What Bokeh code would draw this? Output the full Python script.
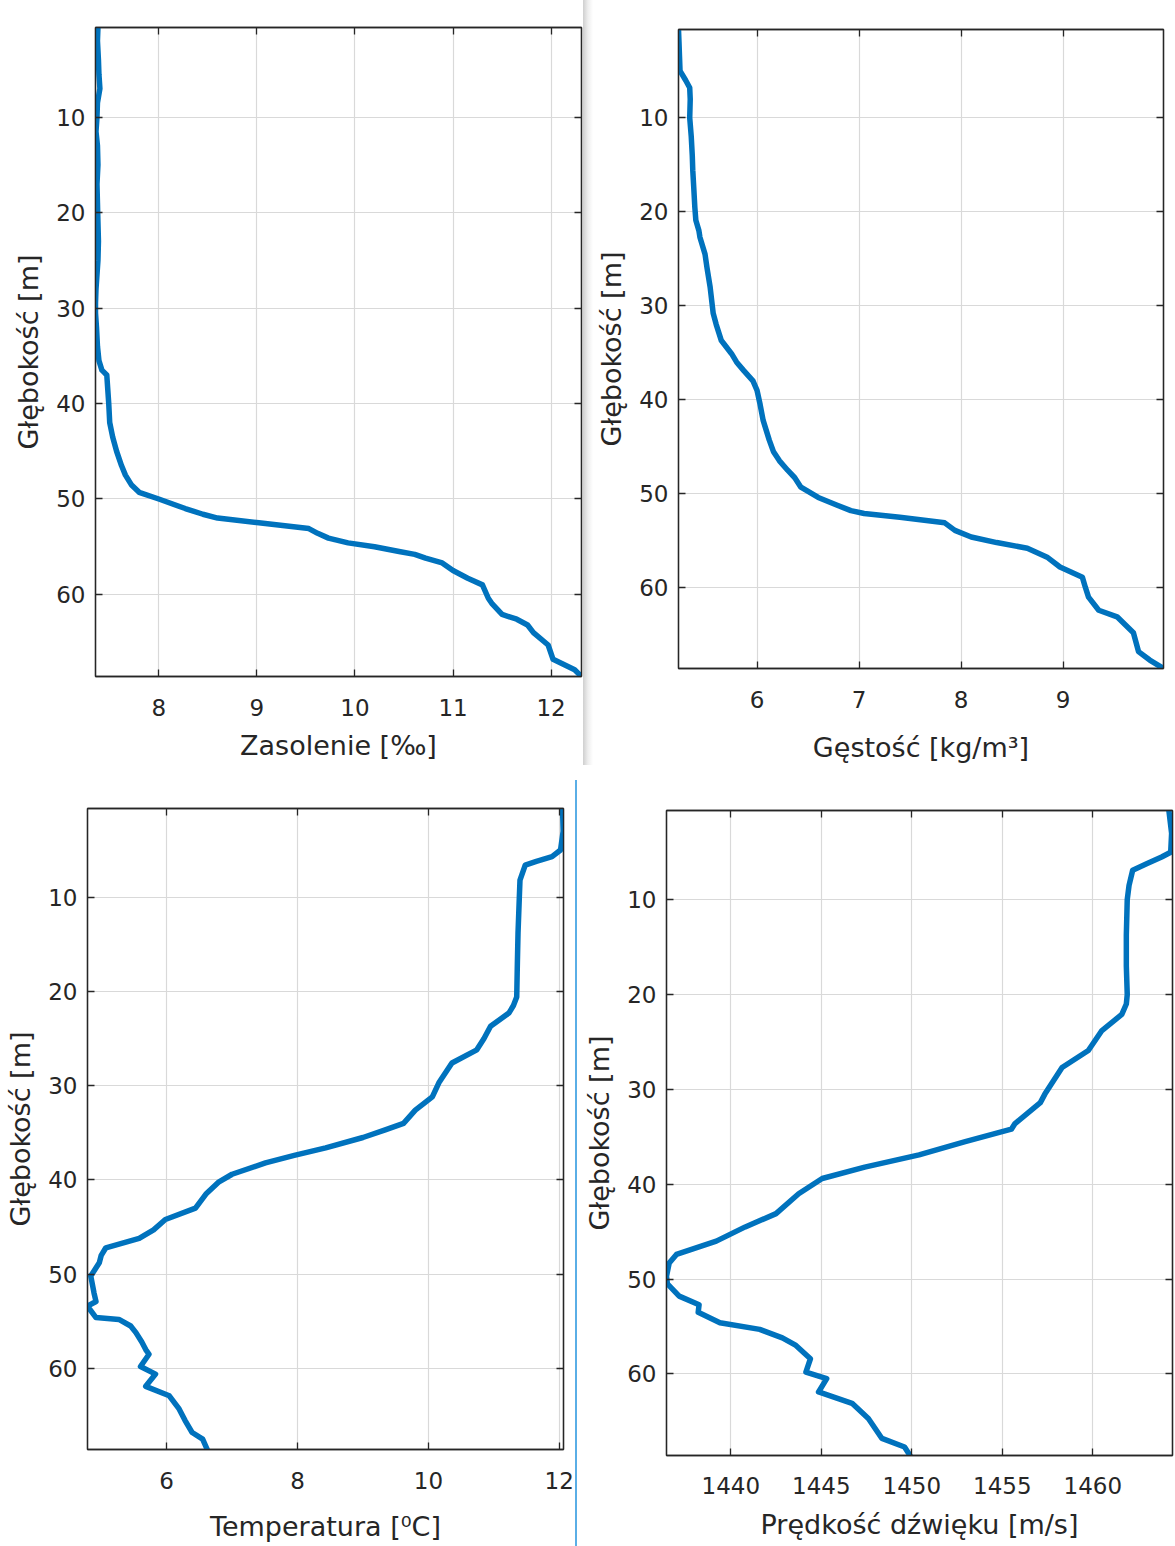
from bokeh.plotting import figure
from bokeh.models import Range1d, FixedTicker, LinearAxis, Div
from bokeh.layouts import row, column
from bokeh.embed import file_html
from bokeh.resources import INLINE

# ---------------- data ----------------
depth_ticks = [10, 20, 30, 40, 50, 60]

depth_sal = [0.6, 2, 4, 5.5, 7, 8.5, 10, 11.5, 13, 15, 17, 19, 21, 23, 25, 26.5, 28, 29.5, 30.5, 32,
             34, 35.5, 36.5, 37, 38.5, 40, 42, 43.5, 45, 46.5, 47.5, 48.5, 49.3, 50, 51, 51.6, 52, 52.5, 53.1, 53.6,
             54.1, 54.6, 55, 55.5, 55.8, 56.2, 56.7, 57.5, 58.3, 59, 60.4, 61, 62.1, 62.6, 63.2, 64, 65.3, 66.8, 67.9, 68.6]
salinity = [7.38, 7.375, 7.385, 7.39, 7.40, 7.375, 7.37, 7.36, 7.375, 7.38, 7.37, 7.375, 7.38, 7.385, 7.38, 7.37, 7.36, 7.355, 7.355, 7.365,
            7.375, 7.39, 7.42, 7.47, 7.48, 7.49, 7.50, 7.53, 7.57, 7.62, 7.66, 7.72, 7.80, 8.0, 8.27, 8.45, 8.6, 9.02, 9.53, 9.62,
            9.73, 9.93, 10.2, 10.45, 10.61, 10.72, 10.89, 11.0, 11.15, 11.3, 11.36, 11.4, 11.5, 11.65, 11.76, 11.82, 11.97, 12.02, 12.24, 12.31]
sal_ticks = [8, 9, 10, 11, 12]

depth_den = [0.6, 2, 3.5, 5, 6, 6.8, 8, 10, 12, 14, 15.6, 17.5, 19.5, 20.9, 22, 22.7, 24.5, 26, 28, 30.8,
             32, 33.7, 35.1, 36, 36.9, 38, 39, 40.5, 42.2, 44.3, 45.5, 46.5, 47.5, 48.3, 49.3, 50.4, 51.2, 51.8, 52.1, 52.5,
             53.1, 53.9, 54.6, 55.2, 55.8, 56.8, 57.8, 58.9, 60, 61, 62.4, 63.1, 64.8, 66.8, 67.7, 68.6]
density = [5.23, 5.235, 5.24, 5.245, 5.30, 5.34, 5.345, 5.34, 5.355, 5.365, 5.37, 5.38, 5.39, 5.40, 5.43, 5.44, 5.49, 5.51, 5.54, 5.57,
           5.60, 5.65, 5.75, 5.80, 5.87, 5.96, 6.0, 6.03, 6.06, 6.12, 6.16, 6.22, 6.30, 6.37, 6.43, 6.6, 6.78, 6.92, 7.05, 7.4,
           7.84, 7.94, 8.1, 8.35, 8.65, 8.85, 8.97, 9.19, 9.22, 9.25, 9.35, 9.53, 9.69, 9.74, 9.85, 9.985]
den_ticks = [6, 7, 8, 9]

depth_temp = [0.6, 3, 5.0, 5.7, 6.2, 6.6, 8.2, 10, 13.8, 17, 20.6, 21.5, 22.3, 23.7, 25, 26.2, 27.6, 29.7, 31.2, 32.6,
              34.0, 34.7, 35.5, 36.6, 37.4, 38.2, 39.4, 40.2, 41.5, 43.0, 44.2, 45.3, 46.2, 47.2, 48.0, 48.8, 50.2, 52.0, 52.9, 53.4,
              54.6, 54.8, 55.5, 56.2, 57.2, 58.0, 58.5, 59.8, 60.6, 61.9, 62.9, 64.3, 65.5, 66.8, 67.5, 68.6]
temperature = [12.05, 12.06, 12.02, 11.89, 11.65, 11.48, 11.40, 11.39, 11.37, 11.36, 11.35, 11.30, 11.23, 10.95, 10.85, 10.74, 10.36, 10.16, 10.06, 9.80,
               9.62, 9.34, 9.0, 8.43, 7.95, 7.51, 7.0, 6.80, 6.6, 6.44, 5.98, 5.8, 5.58, 5.07, 5.0, 4.97, 4.84, 4.89, 4.92, 4.79,
               4.92, 5.27, 5.45, 5.53, 5.62, 5.68, 5.73, 5.60, 5.83, 5.68, 6.04, 6.19, 6.28, 6.39, 6.55, 6.62]
temp_ticks = [6, 8, 10, 12]

depth_snd = [0.6, 3, 5.0, 5.5, 6.2, 6.9, 8.5, 10, 13.7, 17, 20, 21.0, 22.1, 23.8, 25.9, 27.7, 30.5, 31.4, 33.6, 34.2,
             35.5, 36.9, 38.2, 39.4, 41.0, 43.1, 44.5, 46.0, 47.4, 48.3, 49.7, 50.5, 51.8, 52.7, 53.5, 54.6, 55.3, 56.2, 57.0, 58.4,
             59.8, 60.5, 61.9, 63.1, 64.7, 66.8, 67.7, 68.6]
sound_speed = [1464.2, 1464.35, 1464.3, 1463.8, 1463.0, 1462.2, 1462.0, 1461.9, 1461.85, 1461.85, 1461.9, 1461.85, 1461.6, 1460.5, 1459.75, 1458.3, 1457.35, 1457.1, 1455.7, 1455.5,
               1452.95, 1450.4, 1447.4, 1445.05, 1443.75, 1442.5, 1440.8, 1439.2, 1437.0, 1436.6, 1436.45, 1436.5, 1437.15, 1438.25, 1438.2, 1439.4, 1441.6, 1442.85, 1443.6, 1444.4,
               1444.15, 1445.3, 1444.85, 1446.7, 1447.6, 1448.35, 1449.6, 1449.9]
snd_ticks = [1440, 1445, 1450, 1455, 1460]

y_label = "Głębokość [m]"

FONT = "DejaVu Sans"
TXT = "#262626"
BLUE = "#0072BD"


def make_panel(xv, yv, xr, xticks, xlabel, width, height, bl, br, bt, bb,
               tick_standoff, xlab_standoff):
    p = figure(width=width, height=height, x_range=Range1d(*xr), y_range=Range1d(68.6, 0.6),
               output_backend="svg", toolbar_location=None,
               min_border_left=bl, min_border_right=br, min_border_top=bt, min_border_bottom=bb,
               background_fill_color="white", border_fill_color="white")
    p.outline_line_color = TXT
    p.outline_line_width = 1.3

    p.line(xv, yv, line_color=BLUE, line_width=5.5, line_join="round", line_cap="round")

    xt = FixedTicker(ticks=xticks)
    yt = FixedTicker(ticks=depth_ticks)
    p.xaxis.ticker = xt
    p.yaxis.ticker = yt
    p.xgrid.ticker = xt
    p.ygrid.ticker = yt
    p.grid.grid_line_color = "#d9d9d9"
    p.grid.grid_line_width = 1.2

    # mirrored axes (box on) with ticks only, no labels painted
    top = LinearAxis(ticker=xt)
    right = LinearAxis(ticker=yt)
    for ax in (top, right):
        ax.major_label_text_font_size = "1px"
        ax.major_label_text_color = None
        ax.major_label_standoff = 0
    p.add_layout(top, "above")
    p.add_layout(right, "right")

    for ax in p.axis:
        ax.axis_line_color = TXT
        ax.axis_line_width = 1.3
        ax.major_tick_line_color = TXT
        ax.major_tick_line_width = 1.3
        ax.major_tick_in = 7
        ax.major_tick_out = 0
        ax.minor_tick_line_color = None
        ax.major_label_text_font = FONT
        ax.axis_label_text_font = FONT
        ax.axis_label_text_color = TXT
        ax.axis_label_text_font_style = "normal"

    for ax in p.below:
        ax.major_label_text_font_size = "23px"
        ax.major_label_text_color = TXT
        ax.major_label_standoff = tick_standoff
        ax.axis_label = xlabel
        ax.axis_label_text_font_size = "27px"
        ax.axis_label_standoff = xlab_standoff
    for ax in p.left:
        ax.major_label_text_font_size = "23px"
        ax.major_label_text_color = TXT
        ax.major_label_standoff = 10
        ax.axis_label = y_label
        ax.axis_label_text_font_size = "27px"
        ax.axis_label_standoff = 9
    return p


p1 = make_panel(salinity, depth_sal, (7.355, 12.31), sal_ticks, "Zasolenie [‰]",
                583, 770, 95, 2, 27, 94, 22, 11)
p2 = make_panel(density, depth_den, (5.23, 9.985), den_ticks, "Gęstość [kg/m³]",
                582, 770, 84, 12, 29, 102, 22, 21)
p3 = make_panel(temperature, depth_temp, (4.79, 12.065), temp_ticks, "Temperatura [⁰C]",
                575, 776, 87, 12, 38, 97, 22, 19)
p4 = make_panel(sound_speed, depth_snd, (1436.45, 1464.4), snd_ticks, "Prędkość dźwięku [m/s]",
                598, 776, 89, 3, 40, 91, 21, 12)

sep_top = Div(text="", width=10, height=765,
              styles={"background": "linear-gradient(to right, #cfcfcf, #eeeeee 50%, #ffffff)",
                      "margin": "0"})
sep_bottom = Div(text="", width=2, height=776,
                 styles={"background": "linear-gradient(to bottom, #ffffff 10px, #5aaee6 10px)",
                         "margin": "0"})

# each plot wrapped in its own column so that the row does not align the plot frames
top_row = row(column(p1), sep_top, column(p2))
bottom_row = row(column(p3), sep_bottom, column(p4))
layout = column(top_row, bottom_row)

with open("out.html", "w") as f:
    f.write(file_html(layout, INLINE))
